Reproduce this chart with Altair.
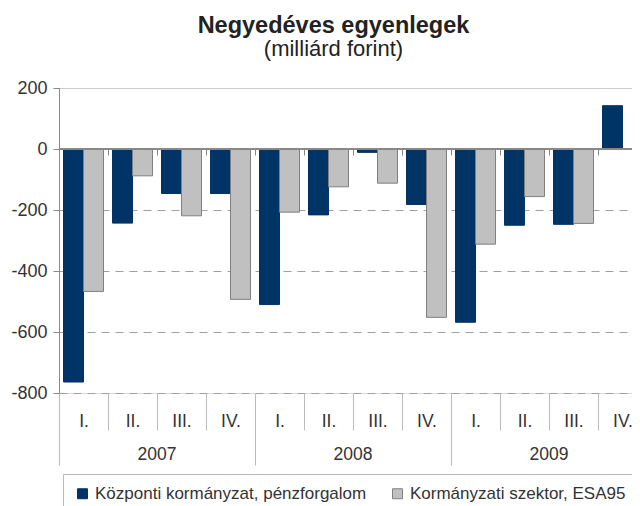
import altair as alt
import pandas as pd

years = ["2007", "2008", "2009"]
quarters = ["I.", "II.", "III.", "IV."]
series = ["Központi kormányzat, pénzforgalom", "Kormányzati szektor, ESA95"]

kozponti = [-764, -243, -146, -146, -510, -216, -11, -182, -568, -250, -247, 142]
esa95 = [-467, -88, -219, -493, -207, -124, -112, -552, -312, -156, -244, None]

keys = [f"{y}-{q}" for y in years for q in quarters]
rows = []
for k, a, b in zip(keys, kozponti, esa95):
    if a is not None:
        rows.append({"key": k, "series": series[0], "value": a})
    if b is not None:
        rows.append({"key": k, "series": series[1], "value": b})
df = pd.DataFrame(rows)

FONT = "Liberation Sans"
xscale = alt.Scale(range=[0, 588], paddingInner=0, paddingOuter=0)

legend_kw = dict(title=None, orient="none", legendX=4, legendY=386,
                 direction="horizontal", strokeColor="#bbbbbb",
                 fillColor="white", padding=11, symbolType="square",
                 symbolSize=100, labelFontSize=17, labelFont=FONT,
                 labelColor="#333333", labelLimit=0, columnPadding=22,
                 labelOffset=4, symbolStrokeWidth=1)

bars = alt.Chart(df).mark_bar(strokeWidth=1).encode(
    x=alt.X("key:N", sort=keys, scale=xscale, title=None,
            axis=alt.Axis(orient="bottom", domain=False, grid=False, tickBand="extent",
                          tickSize=37, tickColor="#bbbbbb", tickWidth=1,
                          labelExpr="split(datum.value, '-')[1]", labelAngle=0,
                          labelBaseline="middle", labelPadding=-9, labelFontSize=17.5,
                          labelColor="#333333", labelFont=FONT, labelOverlap=False)),
    xOffset=alt.XOffset("series:N", sort=series,
                        scale=alt.Scale(paddingInner=0, paddingOuter=0.225)),
    y=alt.Y("value:Q", title=None,
            scale=alt.Scale(domain=[-800, 200], nice=False, zero=False),
            axis=alt.Axis(values=[-800, -600, -400, -200, 0, 200], grid=True,
                          gridDash=alt.condition("datum.value == 200", alt.value([1, 0]),
                                                 alt.value([8, 6])),
                          gridColor=alt.condition("datum.value == 200", alt.value("#c4c4c4"),
                                                  alt.value("#a0a0a0")),
                          gridWidth=1,
                          domain=True, domainColor="#888888", tickSize=6, tickColor="#888888",
                          labelExpr="replace(format(datum.value, 'd'), '\u2212', '-')",
                          labelFontSize=18, labelColor="#333333", labelFont=FONT,
                          labelPadding=6)),
    color=alt.Color("series:N", sort=series,
                    scale=alt.Scale(domain=series, range=["#003366", "#c0c0c0"]),
                    legend=alt.Legend(**legend_kw)),
    stroke=alt.Stroke("series:N", sort=series,
                      scale=alt.Scale(domain=series, range=["#003366", "#808080"]),
                      legend=alt.Legend(**legend_kw)),
)

zero = alt.Chart(df).mark_rule(color="#888888", strokeWidth=1).encode(y=alt.datum(0))

year_keys = [f"{y}-I." for y in years]
year_axis = alt.Chart(df).mark_text(text="").encode(
    x=alt.X("key:N", sort=keys, scale=xscale, title=None,
            axis=alt.Axis(orient="bottom", values=year_keys, bandPosition=0, domain=False,
                          grid=False, tickSize=72, tickColor="#bbbbbb", tickWidth=1,
                          labelExpr="split(datum.value, '-')[0]", labelAngle=0,
                          labelOffset=73.5, labelBaseline="middle", labelPadding=-11,
                          labelFontSize=17.5, labelColor="#333333", labelFont=FONT,
                          labelOverlap=False)),
)

# small category ticks hanging from the zero line
zero_ticks = alt.Chart(df).mark_text(text="").encode(
    x=alt.X("key:N", sort=keys, scale=xscale, title=None,
            axis=alt.Axis(orient="bottom", offset=-244, tickBand="extent", domain=False,
                          grid=False, labels=False, tickSize=6, tickColor="#888888",
                          tickWidth=1)),
)

chart = alt.layer(bars, zero, year_axis, zero_ticks).resolve_axis(x="independent").properties(
    width=573,
    height=305,
    padding={"left": 51, "top": 80, "right": 0, "bottom": 113},
    autosize=alt.AutoSizeParams(type="none"),
    title=alt.TitleParams(text="Negyedéves egyenlegek", subtitle="(milliárd forint)",
                          fontSize=23.5, fontWeight="bold", font=FONT, color="#222222",
                          subtitleFontSize=22, subtitleFont=FONT, subtitleColor="#222222",
                          subtitlePadding=2, anchor="middle", frame="group", dx=-12,
                          offset=19),
).configure_view(stroke=None).configure(background="white")

chart.save("out.html", embed_options={"renderer": "svg", "actions": False})
